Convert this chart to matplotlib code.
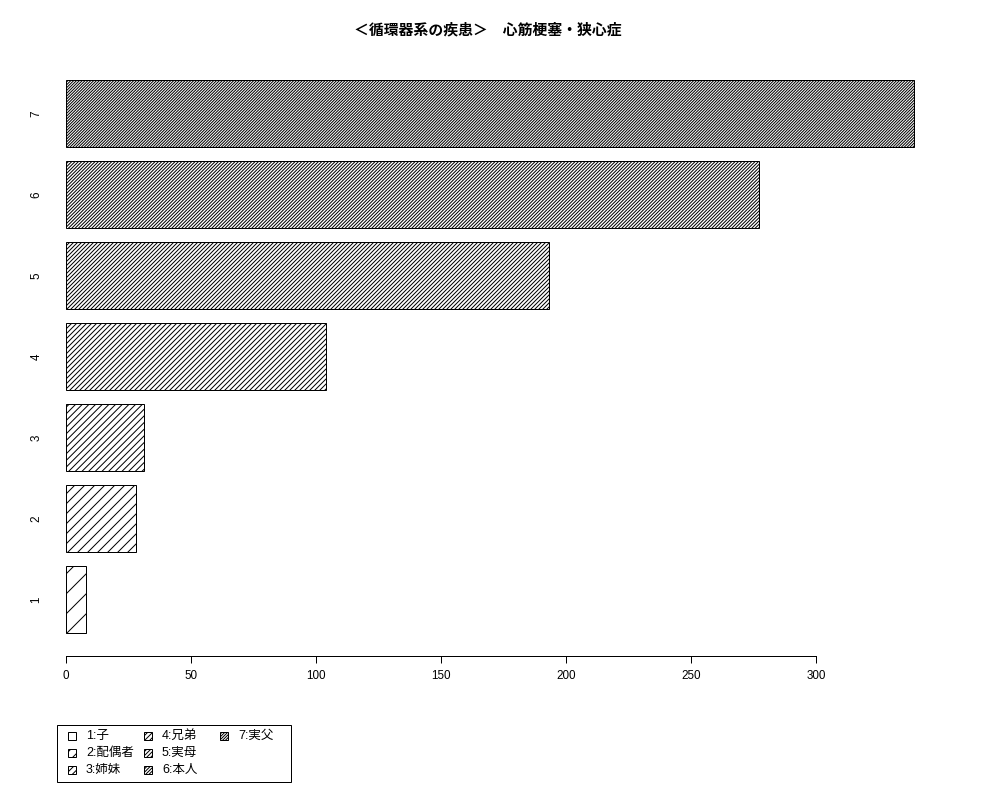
import matplotlib
matplotlib.use("Agg")
import matplotlib.pyplot as plt
from matplotlib.patches import Rectangle

plt.rcParams['font.family'] = ['Liberation Sans', 'Noto Sans CJK JP', 'DejaVu Sans']
plt.rcParams['hatch.linewidth'] = 0.6
plt.rcParams['hatch.color'] = 'black'

# ---- data ----
categories = ['1', '2', '3', '4', '5', '6', '7']
values = [8, 28, 31, 104, 193, 277, 339]
legend_labels = ['1:子', '2:配偶者', '3:姉妹', '4:兄弟', '5:実母', '6:本人', '7:実父']
x_ticks = [0, 50, 100, 150, 200, 250, 300]
title = '＜循環器系の疾患＞　心筋梗塞・狭心症'

DPI = 120
W, H = 1000, 800
fig = plt.figure(figsize=(W / DPI, H / DPI), dpi=DPI)
fig.patch.set_facecolor('white')

# axes placed in pixel terms
left_px, right_px, bottom_px, top_px = 44, 947, 655.5, 57.6
ax = fig.add_axes([left_px / W, 1 - bottom_px / H,
                   (right_px - left_px) / W, (bottom_px - top_px) / H])

bar_width = 1.0
space = 0.2
centers = [space + bar_width / 2 + i * (bar_width + space) for i in range(len(values))]
for i, (c, v) in enumerate(zip(centers, values)):
    ax.barh(c, v, height=bar_width, left=0, facecolor='white', edgecolor='black',
            linewidth=0.6, hatch='/' * (2 * (i + 1)))

ax.set_xlim(-8.8, 352.4)
ax.set_ylim(-0.128, 8.728)

for s in ['top', 'right', 'left']:
    ax.spines[s].set_visible(False)
ax.spines['bottom'].set_bounds(0, 300)
ax.spines['bottom'].set_linewidth(0.6)

ax.set_xticks(x_ticks)
ax.set_xticklabels([str(t) for t in x_ticks])
ax.tick_params(axis='x', direction='out', length=4.2, width=0.6, pad=4.5, labelsize=7)

ax.set_yticks(centers)
ax.set_yticklabels(categories, rotation=90, va='center')
ax.tick_params(axis='y', length=0, pad=1.0, labelsize=7)

fig.text(0.4875, 1 - 29 / H, title, ha='center', va='center', fontsize=8.9,
         fontweight='bold', family=['Noto Sans CJK JP', 'DejaVu Sans'])

# ---- legend (drawn in pixel coords) ----
lax = fig.add_axes([0, 0, 1, 1])
lax.set_xlim(0, W)
lax.set_ylim(H, 0)
lax.axis('off')
lax.add_patch(Rectangle((57, 725), 234, 57, fill=False, edgecolor='black', linewidth=0.6))
for i, lab in enumerate(legend_labels):
    col, row = i // 3, i % 3
    bx = 68 + 76 * col
    by = 736 + 17 * row
    lax.add_patch(Rectangle((bx, by - 4), 8, 8, facecolor='white', edgecolor='black',
                            linewidth=0.6, hatch='/' * (2 * (i + 1))))
    lax.text(bx + 18, by, lab, ha='left', va='center', fontsize=7.5)

fig.savefig('out.png', dpi=DPI, facecolor='white')
